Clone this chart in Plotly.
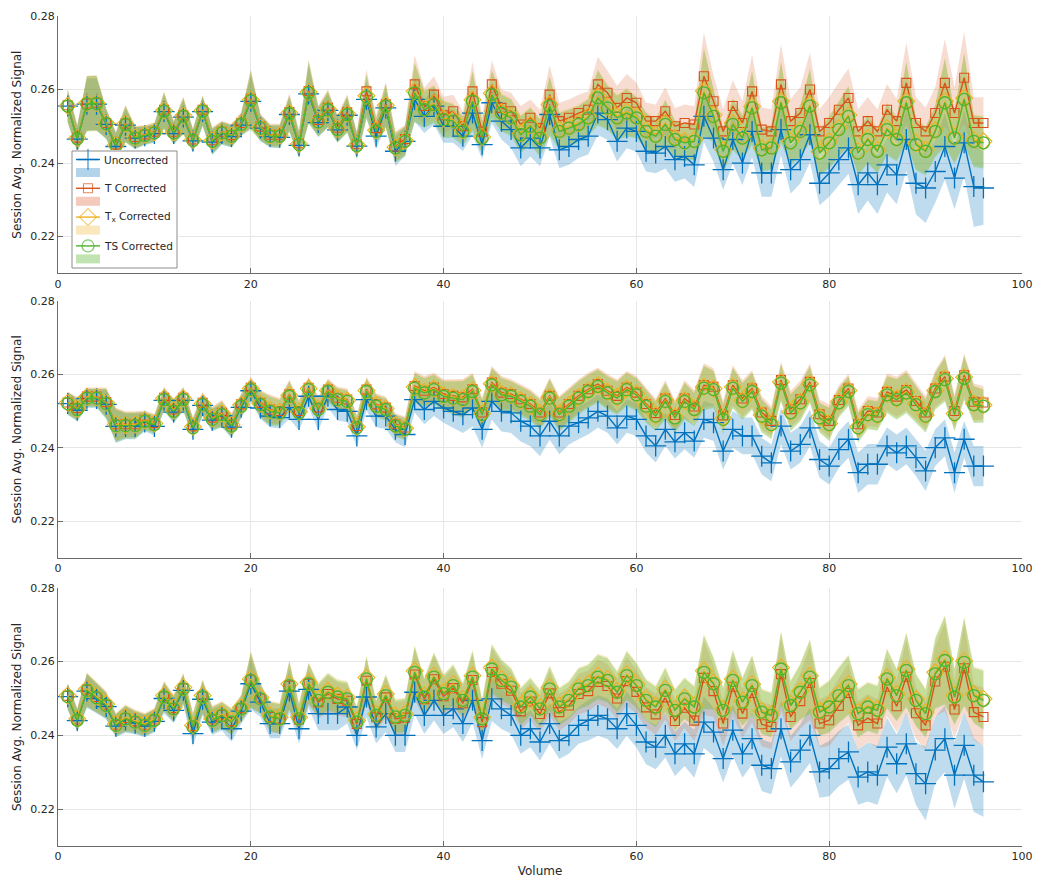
import numpy as np
import plotly.graph_objects as go

VOLUMES = list(range(1, 97))
SERIES_NAMES = ["Uncorrected", "T Corrected", "T<sub>x</sub> Corrected", "TS Corrected"]
Y_TICKS = [0.22, 0.24, 0.26, 0.28]
Y_TICK_LABELS = ["0.22", "0.24", "0.26", "0.28"]
X_TICKS = [0, 20, 40, 60, 80, 100]
X_TICK_LABELS = ["0", "20", "40", "60", "80", "100"]

# ---------------- Panel 1 (values in thousandths) ----------------
P1_U = [255.5, 246.5, 256.0, 256.0, 250.5, 244.5, 250.3, 246.8, 247.4, 248.0, 254.0, 248.0, 252.5, 246.0, 254.0, 245.7,
        248.0, 247.2, 250.3, 256.8, 249.5, 247.2, 247.0, 253.2, 244.8, 258.8, 251.0, 254.3, 249.0, 253.0, 244.6, 257.3,
        247.3, 255.0, 243.2, 245.9, 257.3, 252.7, 255.5, 250.0, 250.0, 247.3, 253.6, 245.0, 256.4, 251.4, 249.1, 244.1,
        246.8, 244.1, 253.2, 243.6, 244.5, 246.4, 247.3, 253.6, 251.8, 245.9, 249.5, 248.6, 243.2, 242.7, 244.5, 240.9,
        241.8, 239.5, 252.7, 246.8, 238.2, 246.4, 240.0, 248.6, 237.3, 237.3, 249.1, 238.2, 240.9, 247.7, 234.5, 237.3,
        240.9, 244.1, 234.1, 237.3, 234.1, 239.5, 236.8, 246.4, 234.5, 233.2, 237.7, 244.5, 235.9, 245.5, 233.6, 233.2]
P1_T = [255.7, 246.9, 256.2, 256.4, 250.9, 245.0, 250.8, 247.1, 247.8, 248.5, 254.5, 248.5, 253.0, 246.4, 254.5, 246.2,
        248.5, 247.6, 250.9, 257.5, 249.9, 247.7, 247.7, 253.9, 245.4, 259.6, 251.7, 255.0, 249.6, 253.8, 245.1, 259.5,
        249.5, 256.0, 244.5, 246.5, 261.4, 255.5, 258.6, 253.0, 254.1, 250.0, 259.5, 248.5, 261.4, 255.0, 254.1, 250.5,
        252.3, 249.5, 258.6, 251.4, 252.3, 253.6, 254.5, 261.4, 259.1, 255.0, 257.7, 256.4, 251.4, 251.4, 254.1, 250.0,
        250.9, 250.5, 263.6, 256.8, 248.6, 255.5, 250.9, 259.5, 249.1, 248.6, 261.4, 251.4, 253.6, 260.0, 248.6, 250.9,
        254.5, 257.7, 248.6, 251.4, 248.6, 254.5, 251.4, 261.8, 250.9, 248.6, 253.6, 261.8, 253.6, 263.2, 250.9, 250.9]
P1_TX = [255.6, 246.8, 256.3, 256.3, 250.8, 244.9, 250.7, 247.0, 247.7, 248.4, 254.3, 248.4, 252.9, 246.3, 254.3, 246.1,
         248.4, 247.5, 250.7, 257.2, 249.7, 247.5, 247.5, 253.6, 245.2, 259.3, 251.4, 254.7, 249.3, 253.4, 244.9, 258.3,
         248.9, 255.7, 244.3, 246.1, 259.5, 254.8, 256.3, 252.1, 251.8, 248.9, 257.2, 247.1, 259.0, 253.9, 252.7, 248.1,
         250.4, 247.1, 255.9, 249.0, 249.9, 250.9, 252.7, 258.1, 255.4, 252.7, 254.0, 252.7, 249.0, 247.7, 250.9, 246.8,
         245.9, 246.3, 259.6, 253.1, 243.6, 250.9, 247.2, 255.4, 244.0, 244.5, 256.8, 245.9, 249.0, 255.9, 243.1, 245.9,
         249.5, 253.1, 243.1, 246.8, 243.6, 249.5, 246.8, 256.8, 245.4, 243.6, 249.0, 256.8, 247.2, 257.7, 246.3, 245.9]
P1_TS = [255.5, 246.6, 256.1, 256.2, 250.7, 244.7, 250.5, 246.8, 247.5, 248.2, 254.1, 248.2, 252.7, 246.1, 254.1, 245.9,
         248.2, 247.3, 250.5, 257.0, 249.5, 247.3, 247.3, 253.4, 245.0, 259.1, 251.2, 254.5, 249.1, 253.2, 244.7, 258.0,
         248.6, 255.5, 244.1, 245.9, 259.1, 254.5, 255.9, 251.8, 251.4, 248.6, 256.8, 246.8, 258.6, 253.6, 252.3, 247.7,
         250.0, 246.8, 255.5, 248.6, 249.5, 250.5, 252.3, 257.7, 255.0, 252.3, 253.6, 252.3, 248.6, 247.3, 250.5, 246.4,
         245.5, 245.9, 259.1, 252.7, 243.2, 250.5, 246.8, 255.0, 243.6, 244.1, 256.4, 245.5, 248.6, 255.5, 242.7, 245.5,
         249.1, 252.7, 242.7, 246.4, 243.2, 249.1, 246.4, 256.4, 245.0, 243.2, 248.6, 256.4, 246.8, 257.3, 245.9, 245.5]
P1_U_HW = [4, 3.5, 7, 7, 4, 3.5, 4.5, 3, 2.5, 2.5, 4.5, 3, 4.5, 3, 4, 3.5, 3, 3, 3, 7, 3.5, 3, 3, 4.5, 3.5, 7.5, 4, 4.5,
           3.5, 4.5, 3.5, 5, 3.5, 5, 4, 4, 6, 4.5, 5, 4.5, 4.5, 4, 6, 4, 5.5, 5, 5, 5, 5, 5, 6, 5, 5, 5, 5, 6, 5.5, 5.5,
           5.5, 5.5, 5.5, 5.5, 6, 6, 6, 6, 7, 6.5, 5.5, 6.5, 6, 7, 6.5, 6.5, 7, 6.5, 6.5, 7.5, 6, 6.5, 7, 7, 8, 7.5, 8,
           7.5, 8, 8.5, 8.5, 9.5, 8.5, 9, 8.5, 9, 11, 10]
P1_CORR_HW = [4.5, 3.5, 7.5, 7.5, 4, 3.5, 5, 3, 2.5, 2.5, 5, 3, 5, 3, 4, 3.5, 3, 3, 3, 8, 3.5, 3, 3, 5, 3.5, 8.5, 4, 5,
              3.5, 5, 3.5, 6, 3.5, 6, 4, 4, 8, 5, 5, 5, 4.5, 4, 8, 4.5, 6.5, 5, 5, 5, 5, 5, 8, 5, 5, 5, 5, 7.5, 6, 6,
              6.5, 5.5, 5, 4.5, 6.5, 5, 5, 5, 12, 7, 6, 7, 6, 10, 6, 6, 11, 6, 7, 10, 6, 7, 7.5, 8, 6, 6.5, 6, 7, 6,
              11, 7, 6.5, 7, 12, 7, 12.5, 7, 7]

# ---------------- Panel 2 ----------------
P2_U = [252.0, 250.2, 253.4, 253.4, 251.8, 245.8, 245.8, 245.8, 247.0, 245.8, 252.9, 249.7, 252.9, 245.0, 251.5, 247.5,
        248.7, 245.6, 251.0, 255.5, 250.8, 248.6, 248.2, 250.9, 247.7, 254.0, 247.7, 254.0, 250.4, 249.9, 243.2, 253.1,
        248.6, 248.6, 245.0, 243.6, 253.1, 250.4, 252.6, 250.8, 249.9, 249.0, 250.8, 245.0, 252.6, 249.9, 249.5, 247.2,
        245.9, 243.2, 247.2, 243.2, 245.9, 246.8, 248.1, 249.9, 248.6, 245.4, 248.6, 247.7, 243.2, 240.5, 245.0, 241.6,
        244.1, 241.8, 247.7, 246.8, 239.1, 245.0, 243.2, 243.2, 237.7, 235.9, 245.9, 239.1, 240.9, 245.4, 236.8, 235.0,
        239.5, 242.3, 233.2, 235.5, 235.5, 240.5, 238.6, 240.5, 237.3, 233.7, 240.0, 242.7, 233.2, 242.3, 235.0, 235.0]
P2_T = [252.3, 250.8, 253.9, 253.9, 252.4, 246.4, 246.4, 246.4, 247.6, 246.7, 253.6, 250.4, 253.6, 245.8, 252.2, 248.2,
        249.5, 246.4, 251.8, 256.3, 252.2, 250.4, 250.0, 254.5, 250.0, 256.3, 250.9, 255.8, 253.6, 253.1, 245.9, 255.8,
        251.8, 250.9, 246.4, 245.5, 256.8, 255.5, 256.4, 254.6, 254.1, 253.7, 255.9, 249.6, 257.7, 255.0, 254.6, 253.2,
        251.9, 249.6, 254.1, 249.6, 251.9, 254.1, 255.9, 257.3, 255.5, 254.1, 256.4, 255.0, 251.9, 249.4, 253.4, 248.9,
        253.4, 251.2, 257.0, 256.6, 248.8, 257.0, 253.4, 256.1, 249.6, 247.3, 258.4, 250.5, 253.2, 257.9, 249.1, 247.3,
        253.0, 256.1, 246.4, 250.0, 249.6, 255.2, 253.9, 255.7, 252.7, 249.6, 256.1, 259.3, 250.0, 259.7, 252.5, 252.3]
P2_TX = [252.2, 250.6, 253.8, 253.7, 252.2, 246.3, 246.2, 246.3, 247.4, 246.6, 253.4, 250.2, 253.4, 245.7, 252.0, 248.0,
         249.3, 246.2, 251.6, 256.1, 252.0, 250.2, 249.8, 254.3, 249.8, 256.1, 250.7, 255.6, 253.4, 252.9, 245.7, 255.6,
         251.6, 250.7, 246.2, 245.3, 256.5, 255.2, 256.1, 254.3, 253.8, 253.4, 255.6, 249.3, 257.4, 254.7, 254.3, 252.9,
         251.6, 249.3, 253.8, 249.3, 251.6, 253.8, 255.6, 257.0, 255.2, 253.8, 256.1, 254.7, 251.6, 248.9, 252.9, 248.4,
         252.9, 250.7, 256.5, 256.1, 248.0, 256.5, 252.9, 255.6, 248.9, 246.6, 257.9, 249.8, 252.5, 257.4, 248.4, 246.6,
         252.5, 255.6, 245.7, 249.3, 248.9, 254.7, 253.4, 255.2, 252.0, 248.9, 255.6, 258.8, 249.3, 259.2, 252.0, 251.6]
P2_TS = [252.0, 250.4, 253.5, 253.5, 252.0, 246.0, 246.0, 246.0, 247.2, 246.3, 253.1, 249.9, 253.1, 245.4, 251.7, 247.7,
         249.0, 245.9, 251.3, 255.8, 251.7, 249.9, 249.5, 254.0, 249.5, 255.8, 250.4, 255.3, 253.1, 252.6, 245.4, 255.3,
         251.3, 250.4, 245.9, 245.0, 256.2, 254.9, 255.8, 254.0, 253.5, 253.1, 255.3, 249.0, 257.1, 254.4, 254.0, 252.6,
         251.3, 249.0, 253.5, 249.0, 251.3, 253.5, 255.3, 256.7, 254.9, 253.5, 255.8, 254.4, 251.3, 248.6, 252.6, 248.1,
         252.6, 250.4, 256.2, 255.8, 247.7, 256.2, 252.6, 255.3, 248.6, 246.3, 257.6, 249.5, 252.2, 257.1, 248.1, 246.3,
         252.2, 255.3, 245.4, 249.0, 248.6, 254.4, 253.1, 254.9, 251.7, 248.6, 255.3, 258.5, 249.0, 258.9, 251.7, 251.3]
P2_U_HW = [3, 3, 2.5, 2.5, 4, 4.5, 3.5, 3.5, 2.5, 2.5, 3, 3, 3, 2.5, 3, 3, 3, 3, 3, 3, 3, 3, 3, 3, 3, 3, 3, 3, 3, 3, 3,
           3, 3, 3.5, 3.5, 3.5, 3.5, 4, 4, 4, 4.5, 5, 5, 5, 5, 5.5, 5.5, 5.5, 5.5, 5.5, 5, 5, 5, 4.5, 4.5, 4.5, 4.5,
           4.5, 4.5, 4.5, 4.5, 4.5, 4.5, 4.5, 4.5, 4.5, 5, 5, 5, 5, 5, 5, 5, 5, 5, 5, 5, 5, 5, 5, 5, 5, 5.5, 5.5, 5.5,
           5, 5, 5, 5, 5.5, 5, 5, 5.5, 5, 5.5, 5.5]
P2_CORR_HW = [3, 3, 2.5, 2.5, 4, 4.5, 3.5, 3.5, 2.5, 2.5, 3, 3, 3, 2.5, 3, 3, 3.5, 3, 3, 3, 3.5, 4, 3.5, 4, 3, 3, 3, 3,
              3, 3, 3, 3.5, 3, 3, 3, 3, 4, 4, 4, 4, 4.5, 5, 4.5, 4, 4.5, 4.5, 4, 4, 4, 4, 5, 4.5, 4.5, 4.5, 4.5, 4.5,
              4.5, 4.5, 4.5, 4.5, 4.5, 4, 5, 4, 5, 4.5, 6, 5, 4, 5.5, 5, 5, 4.5, 4, 5, 5, 5, 5, 4, 4.5, 4, 4, 4, 4, 4,
              5, 5.5, 5.5, 5, 4.5, 5, 6, 4.5, 6, 5, 4.5]

# ---------------- Panel 3 ----------------
P3_U = [250.5, 244.0, 252.0, 250.0, 247.8, 242.5, 244.2, 243.3, 242.5, 243.8, 250.0, 246.8, 252.2, 240.5, 249.8, 243.6,
        244.8, 241.8, 246.6, 254.0, 249.0, 243.2, 243.2, 252.0, 241.8, 252.5, 245.9, 245.9, 245.9, 247.7, 240.0, 250.4,
        242.3, 245.9, 240.0, 240.0, 251.7, 245.4, 249.5, 245.4, 247.2, 243.2, 249.5, 238.6, 249.9, 247.2, 245.4, 240.0,
        241.8, 238.2, 243.2, 238.6, 240.0, 242.7, 244.1, 245.4, 244.5, 241.8, 245.9, 242.7, 238.2, 236.8, 240.0, 235.0,
        237.7, 235.0, 243.6, 240.9, 233.7, 241.4, 235.0, 239.1, 231.9, 231.0, 241.8, 232.8, 236.0, 240.0, 230.1, 231.0,
        233.7, 235.5, 228.7, 230.1, 229.2, 236.8, 232.3, 237.7, 229.6, 226.9, 236.0, 239.1, 229.2, 237.3, 229.2, 227.4]
P3_T = [250.7, 244.3, 252.4, 250.4, 248.3, 242.9, 244.7, 243.8, 242.9, 244.3, 250.6, 247.4, 252.8, 242.5, 250.6, 244.3,
        245.6, 243.8, 247.4, 255.1, 250.0, 245.0, 244.5, 253.5, 244.3, 254.0, 249.0, 251.2, 249.9, 249.4, 243.1, 254.8,
        244.9, 250.3, 244.5, 244.8, 256.5, 249.8, 255.2, 250.6, 252.8, 248.7, 255.0, 243.6, 257.2, 254.0, 252.1, 246.5,
        249.2, 245.8, 251.4, 246.3, 248.1, 251.2, 252.0, 254.5, 253.4, 250.0, 254.7, 251.8, 247.6, 245.7, 250.3, 243.9,
        247.5, 244.0, 255.6, 252.0, 243.2, 253.2, 245.9, 251.5, 243.0, 242.3, 256.6, 245.0, 249.3, 254.2, 243.2, 244.1,
        248.0, 251.5, 242.7, 244.7, 243.2, 253.2, 247.9, 255.9, 246.0, 242.7, 254.6, 258.6, 247.0, 258.2, 246.3, 245.0]
P3_TX = [250.8, 244.5, 252.6, 250.6, 248.5, 243.1, 244.9, 244.0, 243.1, 244.5, 250.8, 247.6, 253.0, 242.7, 250.8, 244.5,
         245.8, 244.0, 247.6, 255.3, 250.3, 245.4, 244.9, 253.9, 244.9, 254.4, 249.9, 252.1, 250.8, 250.3, 244.0, 255.7,
         245.8, 251.2, 245.4, 245.8, 257.5, 250.8, 256.2, 251.7, 253.9, 249.9, 256.2, 244.9, 258.4, 255.3, 253.5, 248.1,
         250.8, 247.6, 253.0, 248.1, 249.9, 253.0, 253.9, 256.2, 255.3, 252.1, 256.6, 253.9, 249.9, 248.1, 252.6, 247.2,
         250.3, 248.1, 257.5, 254.4, 247.2, 255.3, 249.4, 253.9, 246.7, 245.8, 258.4, 248.5, 252.1, 256.2, 246.7, 248.1,
         251.2, 253.9, 246.3, 248.1, 247.2, 255.7, 251.2, 258.0, 249.9, 246.3, 257.1, 260.7, 250.8, 260.2, 251.2, 249.9]
P3_TS = [250.5, 244.1, 252.2, 250.2, 248.1, 242.7, 244.5, 243.6, 242.7, 244.1, 250.4, 247.2, 252.6, 242.3, 250.4, 244.1,
         245.4, 243.6, 247.2, 254.9, 249.9, 245.0, 244.5, 253.5, 244.5, 254.0, 249.5, 251.7, 250.4, 249.9, 243.6, 255.3,
         245.4, 250.8, 245.0, 245.4, 257.1, 250.4, 255.8, 251.3, 253.5, 249.5, 255.8, 244.5, 258.0, 254.9, 253.1, 247.7,
         250.4, 247.2, 252.6, 247.7, 249.5, 252.6, 253.5, 255.8, 254.9, 251.7, 256.2, 253.5, 249.5, 247.7, 252.2, 246.8,
         249.9, 247.7, 257.1, 254.0, 246.8, 254.9, 249.0, 253.5, 246.3, 245.4, 258.0, 248.1, 251.7, 255.8, 246.3, 247.7,
         250.8, 253.5, 245.9, 247.7, 246.8, 255.3, 250.8, 257.6, 249.5, 245.9, 256.7, 260.3, 250.4, 259.8, 250.8, 249.5]
P3_U_HW = [3.5, 3, 4.5, 4, 3.5, 3, 3.5, 3, 3, 3, 4, 3.5, 4, 3.5, 4.5, 3.5, 3.5, 3.5, 3.5, 7, 4, 4, 4, 6, 4, 5, 4.5, 4.5,
           4.5, 4.5, 4, 5.5, 4.5, 5, 4.5, 4.5, 6, 5, 5.5, 5, 5, 5, 6, 5, 6, 5.5, 5, 5, 5, 5, 5.5, 5, 5, 5, 5.5, 5.5, 5.5,
           5.5, 6, 6, 6, 6, 6, 6, 6, 6.5, 7, 6.5, 6.5, 7, 6.5, 7, 7, 7, 7.5, 7, 7, 7.5, 7, 7.5, 7.5, 7.5, 7.5, 8, 8,
           8, 8, 8.5, 8.5, 10, 9, 9, 9, 9, 10, 9.5]
P3_CORR_HW = [3.5, 3, 4.5, 4, 3.5, 3, 3.5, 3, 3, 3, 4, 3.5, 4, 3.5, 4.5, 3.5, 3.5, 3.5, 3.5, 7.5, 4, 4, 4, 6.5, 4, 5.5,
              4.5, 5, 4.5, 4.5, 4, 6, 4, 5.5, 4.5, 4.5, 7, 5, 6.5, 5, 5.5, 4.5, 7, 5, 6.5, 5.5, 5, 5, 5, 5, 6, 5, 5,
              5.5, 5.5, 6, 6, 5.5, 6.5, 6, 5.5, 5.5, 6, 5.5, 5.5, 5.5, 10, 7, 6, 8, 6.5, 8, 6, 6, 10, 6.5, 7.5, 10,
              6.5, 7, 7.5, 8, 6.5, 6.5, 6.5, 8, 7, 10, 7, 6.5, 9.5, 12, 7.5, 12, 7.5, 8]

PANELS = [
    dict(U=P1_U, T=P1_T, TX=P1_TX, TS=P1_TS, U_HW=P1_U_HW, CORR_HW=P1_CORR_HW),
    dict(U=P2_U, T=P2_T, TX=P2_TX, TS=P2_TS, U_HW=P2_U_HW, CORR_HW=P2_CORR_HW),
    dict(U=P3_U, T=P3_T, TX=P3_TX, TS=P3_TS, U_HW=P3_U_HW, CORR_HW=P3_CORR_HW),
]

COLORS = ["#0072BD", "#D95319", "#EDB120", "#4DB52E"]
BAND_COLORS = ["rgba(0,114,189,0.25)", "rgba(217,83,25,0.2)", "rgba(237,177,32,0.22)", "rgba(100,185,60,0.35)"]
SWATCH_COLORS = ["rgba(0,114,189,0.3)", "rgba(217,83,25,0.3)", "rgba(237,177,32,0.3)", "rgba(100,185,60,0.4)"]
MARKERS = [
    dict(symbol="cross-thin", size=15, line=dict(width=1.3, color=COLORS[0])),
    dict(symbol="square-open", size=9, color=COLORS[1], line=dict(width=1.1)),
    dict(symbol="diamond-open", size=13, color=COLORS[2], line=dict(width=1.1)),
    dict(symbol="circle-open", size=12, color=COLORS[3], line=dict(width=1.3)),
]

fig = go.Figure()
x = np.array(VOLUMES)
xpoly = list(x) + list(x[::-1])

for p, panel in enumerate(PANELS):
    xa = "x" if p == 0 else f"x{p+1}"
    ya = "y" if p == 0 else f"y{p+1}"
    vals = [np.array(panel[k]) / 1000 for k in ["U", "T", "TX", "TS"]]
    hws = [np.array(panel["U_HW"]) / 1000] + [np.array(panel["CORR_HW"]) / 1000] * 3
    # shaded bands
    for s in range(4):
        up = vals[s] + hws[s]
        lo = vals[s] - hws[s]
        fig.add_trace(go.Scatter(
            x=xpoly, y=list(up) + list(lo[::-1]), xaxis=xa, yaxis=ya,
            fill="toself", fillcolor=BAND_COLORS[s], line=dict(width=0),
            mode="lines", hoverinfo="skip", showlegend=False))
    # mean lines with markers
    for s in range(4):
        fig.add_trace(go.Scatter(
            x=x, y=vals[s], xaxis=xa, yaxis=ya, mode="lines+markers",
            line=dict(color=COLORS[s], width=1.4), marker=MARKERS[s],
            name=SERIES_NAMES[s], showlegend=False))

# ---------------- compact legend (MATLAB style) on a hidden overlay axis in pixel units ----------------
PLOT_L, PLOT_R, PLOT_T, PLOT_B = 58, 1022, 16, 846      # plot-area in page pixels
LEG_L, LEG_R, LEG_T, LEG_B = 72, 177, 151, 268           # legend box in page pixels
ROW0, ROW_STEP, SWATCH_OFF = 159.5, 28.8, 13.0
SAMPLE_L, SAMPLE_R, TEXT_X = 76, 100, 102

fig.add_trace(go.Scatter(
    x=[LEG_L, LEG_R, LEG_R, LEG_L, LEG_L], y=[LEG_T, LEG_T, LEG_B, LEG_B, LEG_T],
    xaxis="x4", yaxis="y4", mode="lines", fill="toself", fillcolor="white",
    line=dict(color="#8c8c8c", width=1), hoverinfo="skip", showlegend=False))
annotations = []
for s in range(4):
    ry = ROW0 + ROW_STEP * s
    sy = ry + SWATCH_OFF
    fig.add_trace(go.Scatter(
        x=[SAMPLE_L, SAMPLE_R, SAMPLE_R, SAMPLE_L, SAMPLE_L], y=[sy - 4.5, sy - 4.5, sy + 4.5, sy + 4.5, sy - 4.5],
        xaxis="x4", yaxis="y4", mode="lines", fill="toself", fillcolor=SWATCH_COLORS[s],
        line=dict(width=0), hoverinfo="skip", showlegend=False))
    mk = dict(MARKERS[s])
    mk["size"] = [0, MARKERS[s]["size"], 0]
    fig.add_trace(go.Scatter(
        x=[SAMPLE_L, (SAMPLE_L + SAMPLE_R) / 2, SAMPLE_R], y=[ry, ry, ry], xaxis="x4", yaxis="y4",
        mode="lines+markers", line=dict(color=COLORS[s], width=1.4), marker=mk,
        hoverinfo="skip", showlegend=False, cliponaxis=False))
    annotations.append(dict(
        x=TEXT_X, y=ry, xref="x4", yref="y4", text=SERIES_NAMES[s], showarrow=False,
        xanchor="left", yanchor="middle", font=dict(size=10.5, color="#262626")))

domains = [[0.690, 1.0], [0.347, 0.657], [0.0, 0.311]]
axis_color = "#6b6b6b"
font_family = "DejaVu Sans, Arial, sans-serif"
for p in range(3):
    sfx = "" if p == 0 else str(p + 1)
    xaxis = dict(
        domain=[0, 1], anchor=f"y{sfx}", range=[0, 100], tickvals=X_TICKS, ticktext=X_TICK_LABELS,
        ticks="inside", ticklen=5, tickcolor=axis_color, showline=True, linecolor=axis_color, linewidth=1,
        showgrid=True, gridcolor="#e6e6e6", zeroline=False, mirror=False, automargin=False,
        tickfont=dict(size=11, color="#262626"))
    if p == 2:
        xaxis["title"] = dict(text="Volume", font=dict(size=12, color="#262626"), standoff=4)
    yaxis = dict(
        domain=domains[p], anchor=f"x{sfx}", range=[0.21, 0.28], tickvals=Y_TICKS, ticktext=Y_TICK_LABELS,
        ticks="inside", ticklen=5, tickcolor=axis_color, showline=True, linecolor=axis_color, linewidth=1,
        showgrid=True, gridcolor="#e6e6e6", zeroline=False, mirror=False, automargin=False,
        tickfont=dict(size=11, color="#262626"),
        title=dict(text="Session Avg. Normalized Signal", font=dict(size=12, color="#262626"), standoff=6))
    fig.update_layout(**{f"xaxis{sfx}": xaxis, f"yaxis{sfx}": yaxis})

W = PLOT_R - PLOT_L
H = PLOT_B - PLOT_T
fig.update_layout(
    xaxis4=dict(domain=[(LEG_L - PLOT_L - 1) / W, (LEG_R - PLOT_L + 1) / W], range=[LEG_L - 1, LEG_R + 1],
                anchor="y4", visible=False, fixedrange=True),
    yaxis4=dict(domain=[(PLOT_B - LEG_B - 1) / H, (PLOT_B - LEG_T + 1) / H], range=[LEG_B + 1, LEG_T - 1],
                anchor="x4", visible=False, fixedrange=True),
)

fig.update_layout(
    width=1050, height=888,
    margin=dict(l=50, r=36, t=8, b=50),
    paper_bgcolor="white", plot_bgcolor="white",
    font=dict(family=font_family, color="#262626"),
    showlegend=False,
    annotations=annotations,
)

fig.write_html("out.html")
